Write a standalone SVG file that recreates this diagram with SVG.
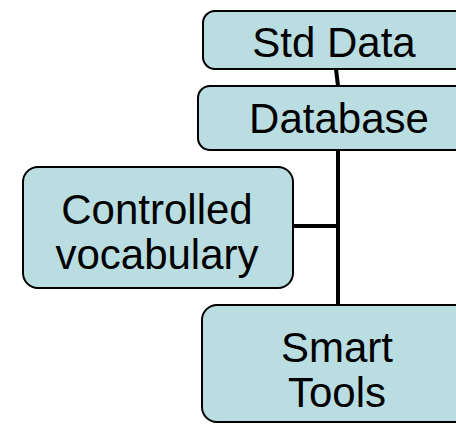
<svg xmlns="http://www.w3.org/2000/svg" width="456" height="424" viewBox="0 0 456 424">
  <style>
    .box { fill: #b9dde0; stroke: #000; stroke-width: 2; }
    .lbl { font-family: "Liberation Sans", Arial, sans-serif; font-size: 42px; fill: #000; text-anchor: middle; }
    .link { stroke: #000; stroke-width: 4; fill: none; }
  </style>
  <rect width="456" height="424" fill="#fff"/>
  <g id="connectors">
    <path class="link" d="M336 69 L338 86"/>
    <path class="link" d="M338 150 L338 305"/>
    <path class="link" d="M293 226 L338 226"/>
  </g>
  <g id="std-data">
    <rect class="box" x="203" y="11" width="280" height="58" rx="12"/>
    <text class="lbl" x="334" y="57">Std Data</text>
  </g>
  <g id="database">
    <rect class="box" x="198" y="86" width="285" height="64" rx="12"/>
    <text class="lbl" x="339" y="133">Database</text>
  </g>
  <g id="controlled-vocabulary">
    <rect class="box" x="23" y="167" width="270" height="121" rx="15"/>
    <text class="lbl" x="157" y="224">Controlled</text>
    <text class="lbl" x="157" y="269">vocabulary</text>
  </g>
  <g id="smart-tools">
    <rect class="box" x="202" y="305" width="280" height="117" rx="15"/>
    <text class="lbl" x="337" y="362">Smart</text>
    <text class="lbl" x="337" y="407">Tools</text>
  </g>
</svg>
